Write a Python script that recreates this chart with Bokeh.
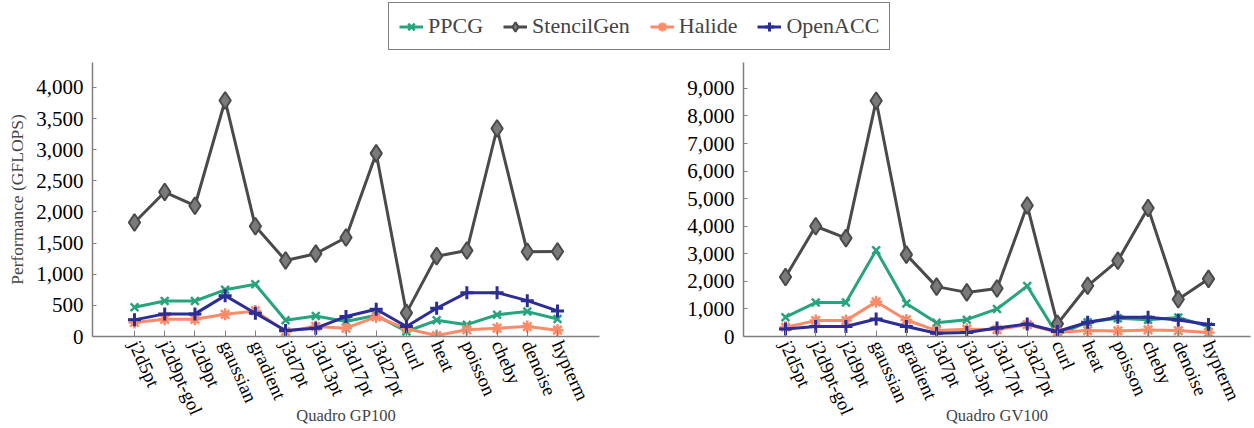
from bokeh.plotting import figure
from bokeh.models import (FactorRange, Range1d, FixedTicker, NumeralTickFormatter,
                          Legend, LegendItem, ColumnDataSource)
from bokeh.layouts import column, row
from bokeh.embed import file_html
from bokeh.resources import INLINE

kernels = ["j2d5pt", "j2d9pt-gol", "j2d9pt", "gaussian", "gradient", "j3d7pt",
           "j3d13pt", "j3d17pt", "j3d27pt", "curl", "heat", "poisson", "cheby",
           "denoise", "hypterm"]

series_names = ["PPCG", "StencilGen", "Halide", "OpenACC"]

# Quadro GP100 (GFLOPS)
gp100_ppcg = [470, 570, 570, 750, 840, 260, 330, 240, 340, 80, 260, 190, 350, 400, 280]
gp100_stencilgen = [1830, 2320, 2100, 3790, 1770, 1220, 1330, 1590, 2940, 380, 1290, 1380, 3340, 1360, 1365]
gp100_halide = [225, 277, 277, 357, 411, 80, 160, 133, 315, 125, 16, 107, 133, 160, 101]
gp100_openacc = [267, 363, 363, 656, 373, 96, 133, 320, 437, 160, 453, 704, 704, 576, 411]

# Quadro GV100 (GFLOPS)
gv100_ppcg = [700, 1230, 1230, 3130, 1200, 500, 610, 1000, 1830, 60, 520, 660, 610, 690, 360]
gv100_stencilgen = [2160, 4000, 3570, 8550, 2970, 1810, 1600, 1740, 4750, 460, 1840, 2750, 4660, 1350, 2090]
gv100_halide = [336, 576, 576, 1260, 600, 216, 264, 252, 432, 156, 216, 204, 240, 216, 144]
gv100_openacc = [276, 360, 360, 636, 360, 120, 144, 312, 456, 180, 516, 696, 696, 600, 432]

gp100_ticks = [0, 500, 1000, 1500, 2000, 2500, 3000, 3500, 4000]
gv100_ticks = [0, 1000, 2000, 3000, 4000, 5000, 6000, 7000, 8000, 9000]

FONT = "Liberation Serif"
colors = ["#27a47e", "#4a4a4a", "#fb8b69", "#2d2d96"]
styles = [
    dict(marker="x", size=11, line_width=2.5),
    dict(marker="diamond", size=17, line_width=2),
    dict(marker="asterisk", size=12, line_width=2.5),
    dict(marker="cross", size=13, line_width=3),
]


def draw_series(p, xs, ys, i):
    src = ColumnDataSource(dict(x=xs, y=ys))
    rl = p.line("x", "y", source=src, line_color=colors[i], line_width=3)
    st = styles[i]
    if st["marker"] == "diamond":
        rs = p.scatter("x", "y", source=src, marker="diamond", size=st["size"],
                       line_color=colors[i], line_width=st["line_width"],
                       fill_color="#7a7a7a")
    else:
        rs = p.scatter("x", "y", source=src, marker=st["marker"], size=st["size"],
                       line_color=colors[i], line_width=st["line_width"])
    return rl, rs


def make_plot(title, data, ymax, ticks, width, left_border, right_border, ylabel):
    p = figure(x_range=FactorRange(factors=kernels, range_padding=0.89,
                                   range_padding_units="absolute"),
               y_range=Range1d(0, ymax), width=width, height=373,
               output_backend="svg", toolbar_location=None,
               min_border_left=left_border, min_border_right=right_border,
               min_border_top=7, min_border_bottom=91)
    p.grid.visible = False
    p.outline_line_color = None
    p.background_fill_color = "white"
    p.border_fill_color = "white"
    for i, ys in enumerate(data):
        draw_series(p, kernels, ys, i)

    xa = p.xaxis[0]
    xa.major_label_orientation = -1.15
    xa.major_tick_in = 6
    xa.major_tick_out = 0
    xa.axis_line_color = "#808080"
    xa.axis_line_width = 1.5
    xa.major_tick_line_color = "#808080"
    xa.major_label_text_font = FONT
    xa.major_label_text_font_size = "19px"
    xa.major_label_text_color = "black"
    xa.major_label_standoff = 5
    xa.axis_label = title
    xa.axis_label_text_font = FONT
    xa.axis_label_text_font_size = "16.5px"
    xa.axis_label_text_font_style = "normal"
    xa.axis_label_standoff = -19

    ya = p.yaxis[0]
    ya.ticker = FixedTicker(ticks=ticks)
    ya.formatter = NumeralTickFormatter(format="0,0")
    ya.major_tick_in = 4
    ya.major_tick_out = 0
    ya.minor_tick_in = 0
    ya.minor_tick_out = 0
    ya.axis_line_color = "#808080"
    ya.axis_line_width = 1.5
    ya.major_tick_line_color = "#808080"
    ya.major_label_text_font = FONT
    ya.major_label_text_font_size = "21px"
    ya.major_label_text_color = "black"
    ya.major_label_standoff = 9
    if ylabel:
        ya.axis_label = ylabel
        ya.axis_label_text_font = FONT
        ya.axis_label_text_font_size = "17.5px"
        ya.axis_label_text_font_style = "normal"
        ya.axis_label_standoff = 6
    return p


p1 = make_plot("Quadro GP100", [gp100_ppcg, gp100_stencilgen, gp100_halide, gp100_openacc],
               4400, gp100_ticks, 640, 92, 41, "Performance (GFLOPS)")
p2 = make_plot("Quadro GV100", [gv100_ppcg, gv100_stencilgen, gv100_halide, gv100_openacc],
               9940, gv100_ticks, 614, 103, 4, None)

# legend strip
lf = figure(width=1254, height=55, x_range=Range1d(0, 1), y_range=Range1d(0, 1),
            output_backend="svg", toolbar_location=None, min_border=0,
            x_axis_location=None, y_axis_location=None)
lf.grid.visible = False
lf.outline_line_color = None
items = []
for i, name in enumerate(series_names):
    rl, rs = draw_series(lf, [5, 6], [5, 6], i)
    items.append(LegendItem(label=name, renderers=[rl, rs]))
legend = Legend(items=items, orientation="horizontal", location=(388, 5),
                label_text_font=FONT, label_text_font_size="22px",
                label_height=23, glyph_height=23, glyph_width=24,
                label_standoff=5, spacing=20, padding=10, margin=0,
                border_line_color="black", border_line_width=1,
                background_fill_color="white", background_fill_alpha=1.0)
lf.add_layout(legend, "center")

layout = column(lf, row(p1, p2))
open("out.html", "w").write(file_html(layout, INLINE))
